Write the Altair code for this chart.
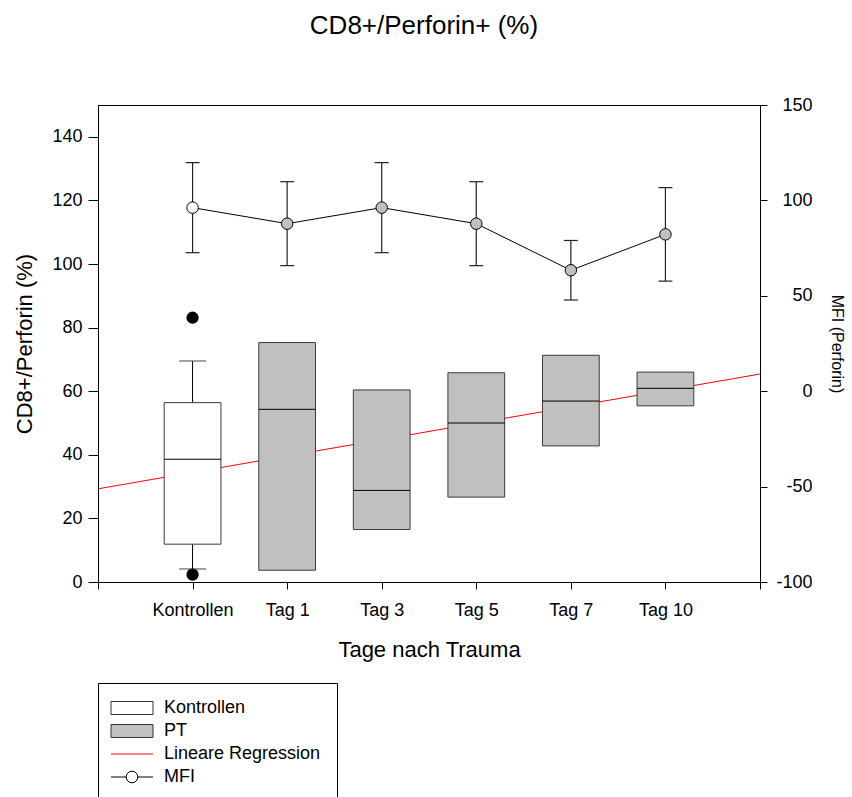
import json
import altair as alt
import pandas as pd

# ---------------- data ----------------
categories = ["Kontrollen", "Tag 1", "Tag 3", "Tag 5", "Tag 7", "Tag 10"]
positions = [1, 2, 3, 4, 5, 6]
groups = ["Kontrollen", "PT", "PT", "PT", "PT", "PT"]

box_q1 = [11.9, 3.7, 16.5, 26.7, 42.8, 55.4]
box_median = [38.6, 54.3, 28.8, 50.0, 56.9, 60.9]
box_q3 = [56.4, 75.3, 60.4, 65.8, 71.3, 66.0]

whisker_pos = [1]
whisker_low = [4.1]
whisker_high = [69.5]

outlier_pos = [1, 1]
outlier_values = [83.1, 2.3]

regression_x = [0, 7]
regression_y = [29.3, 65.4]

mfi_mean = [96.2, 87.8, 96.2, 87.8, 63.4, 82.2]
mfi_err = [23.6, 22.0, 23.6, 22.0, 15.6, 24.5]

legend_items = ["Kontrollen", "PT", "Lineare Regression", "MFI"]

x_ticks = [0, 1, 2, 3, 4, 5, 6, 7]
left_ticks = [0, 20, 40, 60, 80, 100, 120, 140]
right_ticks = [-100, -50, 0, 50, 100, 150]

# ---------------- tables ----------------
box_df = pd.DataFrame({"pos": positions, "group": groups, "q1": box_q1,
                       "median": box_median, "q3": box_q3})
whisk_df = pd.DataFrame({"pos": whisker_pos, "low": whisker_low, "high": whisker_high})
out_df = pd.DataFrame({"pos": outlier_pos, "val": outlier_values})
reg_df = pd.DataFrame({"x": regression_x, "y": regression_y})
mfi_df = pd.DataFrame({"pos": positions, "group": groups, "mean": mfi_mean, "err": mfi_err})
leg_df = pd.DataFrame({"item": legend_items})

FONT = "Liberation Sans"
BOX_HALF = 0.3
WCAP_HALF = 0.143
ECAP_HALF = 0.074

label_expr = (f"datum.value >= 1 && datum.value <= {len(categories)} ? "
              f"{json.dumps(categories)}[datum.value - 1] : ''")

x_scale = alt.Scale(domain=[0, 7], nice=False, zero=False)
x_axis = alt.Axis(values=x_ticks, labelExpr=label_expr, title="Tage nach Trauma",
                  tickSize=7, labelPadding=12, titlePadding=20, labelFontSize=18,
                  titleFontSize=22, labelFlush=False, labelOverlap=False)

ly_scale = alt.Scale(domain=[0, 150], nice=False, zero=False)
ly_axis = alt.Axis(values=left_ticks, title="CD8+/Perforin (%)", tickSize=10,
                   labelPadding=6, titlePadding=15, labelFontSize=18, titleFontSize=22)

ry_scale = alt.Scale(domain=[-100, 150], nice=False, zero=False)
ry_axis = alt.Axis(orient="right", values=right_ticks, title="MFI (Perforin)",
                   labelExpr="'' + datum.value",
                   tickSize=7, labelPadding=45, labelAlign="right", titlePadding=16,
                   labelFontSize=18, titleFontSize=16)


def X(f):
    return alt.X(f, type="quantitative", scale=x_scale, axis=x_axis)


def LY(f):
    return alt.Y(f, type="quantitative", scale=ly_scale, axis=ly_axis)


def RY(f):
    return alt.Y(f, type="quantitative", scale=ry_scale, axis=ry_axis)


# ---------------- left (percentage) layers ----------------
regression = alt.Chart(reg_df).mark_line(color="#ff0000", strokeWidth=1).encode(
    x=X("x"), y=LY("y"))

whiskers = alt.Chart(whisk_df).mark_rule(color="black", strokeWidth=1).encode(
    x=X("pos"), y=LY("low"), y2="high")

whisker_caps = alt.Chart(whisk_df).transform_fold(["low", "high"]).transform_calculate(
    x_lo=f"datum.pos - {WCAP_HALF}", x_hi=f"datum.pos + {WCAP_HALF}"
).mark_rule(color="#444", strokeWidth=1).encode(
    x=X("x_lo"), x2="x_hi", y=LY("value"))

boxes = alt.Chart(box_df).transform_calculate(
    x_lo=f"datum.pos - {BOX_HALF}", x_hi=f"datum.pos + {BOX_HALF}"
).mark_rect(stroke="#3a3a3a", strokeWidth=1).encode(
    x=X("x_lo"), x2="x_hi", y=LY("q1"), y2="q3",
    fill=alt.condition("datum.group == 'Kontrollen'", alt.value("white"), alt.value("#c0c0c0")))

medians = alt.Chart(box_df).transform_calculate(
    x_lo=f"datum.pos - {BOX_HALF}", x_hi=f"datum.pos + {BOX_HALF}"
).mark_rule(color="black", strokeWidth=1).encode(
    x=X("x_lo"), x2="x_hi", y=LY("median"))

outliers = alt.Chart(out_df).mark_circle(color="black", size=150, opacity=1).encode(
    x=X("pos"), y=LY("val"))

rect_path = "M-3,-0.93L3,-0.93L3,0.93L-3,0.93Z"
line_path = "M-3,0L3,0"
mfi_path = ("M-3,0L-0.83,0M0.83,0L3,0M0.83,0A0.83,0.83,0,1,1,-0.83,0"
            "A0.83,0.83,0,1,1,0.83,0Z")

legend = alt.Legend(orient="none", legendX=0, legendY=578, padding=16, symbolOffset=9,
                    labelOffset=23, rowPadding=5, strokeColor="black", fillColor="white",
                    labelFontSize=18, labelFont=FONT, labelColor="black", labelLimit=400,
                    symbolSize=196, symbolStrokeWidth=1, title=None)

legend_layer = alt.Chart(leg_df).transform_filter("false").mark_point(
    size=196, opacity=1, strokeWidth=1).encode(
    shape=alt.Shape("item:N", scale=alt.Scale(domain=legend_items,
                    range=[rect_path, rect_path, line_path, mfi_path]), legend=legend),
    fill=alt.Fill("item:N", scale=alt.Scale(domain=legend_items,
                  range=["white", "#c0c0c0", "white", "white"]), legend=legend),
    stroke=alt.Stroke("item:N", scale=alt.Scale(domain=legend_items,
                      range=["#333333", "#333333", "#ff0000", "black"]), legend=legend),
)

left = alt.layer(regression, whiskers, boxes, medians, whisker_caps, outliers, legend_layer)

# ---------------- right (MFI) layers ----------------
mfi_base = alt.Chart(mfi_df).transform_calculate(
    lo="datum.mean - datum.err", hi="datum.mean + datum.err")

err_bars = mfi_base.mark_rule(color="#222", strokeWidth=1.2).encode(
    x=X("pos"), y=RY("lo"), y2="hi")

err_caps = mfi_base.transform_fold(["lo", "hi"]).transform_calculate(
    x_lo=f"datum.pos - {ECAP_HALF}", x_hi=f"datum.pos + {ECAP_HALF}"
).mark_rule(color="#222", strokeWidth=1.2).encode(
    x=X("x_lo"), x2="x_hi", y=RY("value"))

mfi_line = mfi_base.mark_line(color="black", strokeWidth=1).encode(
    x=X("pos"), y=RY("mean"))

mfi_points = mfi_base.mark_point(shape="circle", filled=True, size=132, stroke="black",
                                 strokeWidth=1, opacity=1).encode(
    x=X("pos"), y=RY("mean"),
    fill=alt.condition("datum.group == 'Kontrollen'", alt.value("white"), alt.value("#c0c0c0")))

right = alt.layer(err_bars, err_caps, mfi_line, mfi_points)

chart = alt.layer(left, right).resolve_scale(y="independent").properties(
    width=662, height=477,
    title=alt.TitleParams(text="CD8+/Perforin+ (%)", fontSize=26, font=FONT,
                          fontWeight="normal", anchor="middle", frame="group",
                          baseline="alphabetic", offset=36, dx=-5, color="black"),
    padding={"left": 98, "top": 105, "right": 92, "bottom": 215},
    autosize=alt.AutoSizeParams(type="none"),
    background="white",
).configure_view(stroke="black", strokeWidth=1).configure_axis(
    grid=False, domainColor="black", tickColor="black", labelColor="black",
    titleColor="black", labelFont=FONT, titleFont=FONT, titleFontWeight="normal",
    domainWidth=1, tickWidth=1,
)

chart.save("out.html", embed_options={"renderer": "svg", "actions": False})
